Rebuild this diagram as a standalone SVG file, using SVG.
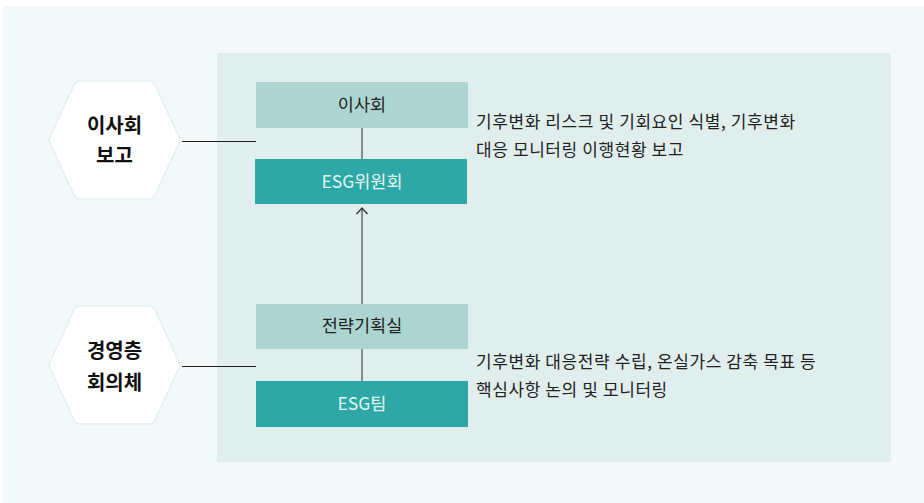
<svg xmlns="http://www.w3.org/2000/svg" width="924" height="503" viewBox="0 0 924 503">
<defs>
<style>
text{font-family:"Noto Sans CJK KR","Noto Sans",sans-serif;}
.hex{fill:#ffffff;stroke:#e4eff0;stroke-width:1.5;stroke-linejoin:round;}
.ht{font-size:20px;font-weight:bold;fill:#111;text-anchor:middle;}
.lt{fill:#acd5d2;}
.dk{fill:#2ea8a6;}
.bt{font-size:17.5px;fill:#222;text-anchor:middle;}
.wt{font-size:17.5px;fill:#e3f5f3;text-anchor:middle;}
.dt{font-size:17px;fill:#222;letter-spacing:0.6px;}
.ln{stroke:#222;stroke-width:1;fill:none;}
.vl{stroke:#555;stroke-width:1.3;fill:none;}
</style>
</defs>
<rect x="3" y="6" width="921" height="497" fill="#f3f9f9"/>
<rect x="217" y="53" width="674" height="409" fill="#e0eeee"/>
<g id="connectors">
<line class="ln" x1="182" y1="141.5" x2="256" y2="141.5"/>
<line class="ln" x1="182" y1="366.5" x2="256" y2="366.5"/>
<line class="vl" x1="362" y1="128" x2="362" y2="159"/>
<line class="vl" x1="362" y1="349" x2="362" y2="381"/>
<path d="M362,304 L362,208" class="vl"/>
<path d="M356.5,214 L362,208 L367.5,214" fill="none" stroke="#333" stroke-width="1.3"/>
</g>
<g id="hex1">
<path class="hex" d="M50,137 L74,85 Q76,81 80,81 L149,81 Q153,81 155,85 L179,137 Q181,140 179,143 L155,195 Q153,199 149,199 L80,199 Q76,199 74,195 L50,143 Q48,140 50,137 Z"/>
<text class="ht" x="114.5" y="133">이사회</text>
<text class="ht" x="114.5" y="163">보고</text>
</g>
<g id="hex2">
<path class="hex" d="M50,362 L74,310 Q76,306 80,306 L149,306 Q153,306 155,310 L179,362 Q181,365 179,368 L155,420 Q153,424 149,424 L80,424 Q76,424 74,420 L50,368 Q48,365 50,362 Z"/>
<text class="ht" x="114.5" y="358">경영층</text>
<text class="ht" x="114.5" y="390">회의체</text>
</g>
<g id="board">
<rect class="lt" x="256" y="82" width="212" height="46"/>
<text class="bt" x="362" y="111">이사회</text>
</g>
<g id="esgcommittee">
<rect class="dk" x="255" y="159" width="212" height="45"/>
<text class="wt" x="362" y="188">ESG위원회</text>
</g>
<g id="strategy">
<rect class="lt" x="256" y="304" width="212" height="45"/>
<text class="bt" x="362" y="332">전략기획실</text>
</g>
<g id="esgteam">
<rect class="dk" x="256" y="381" width="212" height="46"/>
<text class="wt" x="362" y="410">ESG팀</text>
</g>
<g id="desc1">
<text class="dt" x="476" y="128">기후변화 리스크 및 기회요인 식별, 기후변화</text>
<text class="dt" x="476" y="156">대응 모니터링 이행현황 보고</text>
</g>
<g id="desc2">
<text class="dt" x="476" y="368">기후변화 대응전략 수립, 온실가스 감축 목표 등</text>
<text class="dt" x="476" y="396">핵심사항 논의 및 모니터링</text>
</g>
</svg>
